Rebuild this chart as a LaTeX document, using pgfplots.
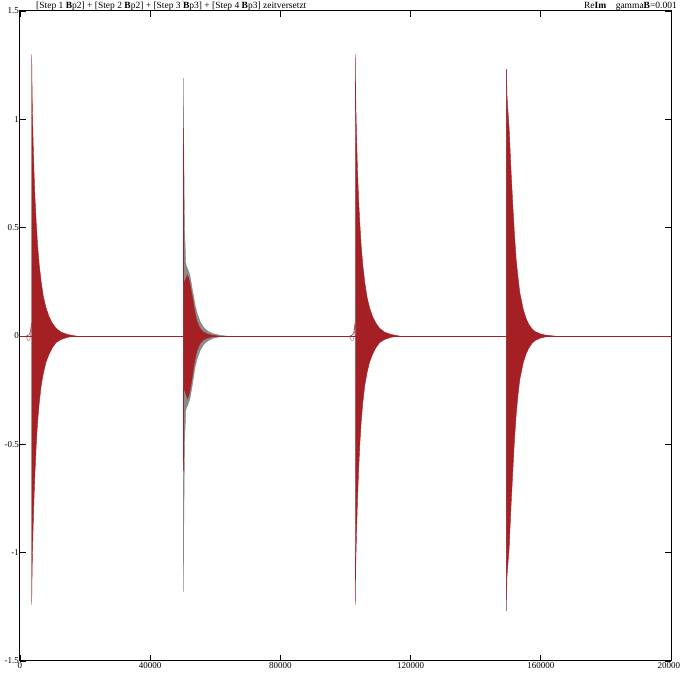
\documentclass[border=0pt]{standalone}
\usepackage{fontspec}
\setmainfont{Liberation Serif}
\usepackage{pgfplots}
\pgfplotsset{compat=1.18}
\definecolor{dred}{RGB}{165,32,36}
\definecolor{lgray}{RGB}{138,138,138}
\begin{document}
\fontsize{9.5}{11}\selectfont
\begin{tikzpicture}
\begin{axis}[name=ax, scale only axis, width=651pt, height=650pt,
 xmin=0, xmax=200000, ymin=-1.5, ymax=1.5,
 xtick={0,40000,80000,120000,160000,200000},
 ytick={-1.5,-1,-0.5,0,0.5,1,1.5},
 scaled x ticks=false, scaled y ticks=false,
 xticklabel style={/pgf/number format/fixed, /pgf/number format/1000 sep={}},
 yticklabel style={/pgf/number format/fixed, inner sep=1pt},
 /pgf/number format/assume math mode=true,
 tick align=inside, major tick length=6pt,
 axis line style={line width=1pt},
 every tick/.style={black, line width=0.9pt},
 tick label style={font=\fontsize{9}{11}\selectfont, inner sep=1.2pt},
 clip=true]
% baselines
\addplot[lgray, line width=0.6pt] coordinates {(0,0) (200000,0)};
% gray curls
\addplot[lgray, line width=0.5pt, smooth] coordinates {(1800,0) (2400,-0.02) (2900,-0.02) (3300,0.01) (3500,0.05)};
\addplot[lgray, line width=0.5pt, smooth] coordinates {(101200,0) (101800,-0.02) (102300,-0.02) (102700,0.01) (102900,0.05)};
% gray burst 2
\addplot[lgray, fill=lgray, line width=0.4pt] coordinates {
(50200,1.19) (50300,0.9) (50450,0.65) (50650,0.45) (50950,0.33) (51500,0.31) (52200,0.28) (53000,0.21) (53700,0.15) (54500,0.10) (55400,0.065) (56400,0.04) (57700,0.022) (59200,0.011) (61200,0.004) (63200,0)
(61200,-0.004) (59200,-0.011) (57700,-0.022) (56400,-0.04) (55400,-0.065) (54500,-0.10) (53700,-0.15) (53000,-0.22) (52200,-0.29) (51500,-0.32) (50950,-0.34) (50650,-0.45) (50450,-0.65) (50300,-0.9) (50200,-1.18)} -- cycle;
% gray spike burst 4
\addplot[lgray, line width=0.6pt] coordinates {(149550,-1.27) (149550,1.23)};
% red baseline
\addplot[dred, line width=0.6pt] coordinates {(0,0) (200000,0)};
% red curls
\addplot[dred, line width=0.5pt, smooth] coordinates {(2000,0) (2700,0.005) (3200,0.02) (3500,0.06)};
\addplot[dred, line width=0.5pt, smooth] coordinates {(101400,0) (102100,0.005) (102600,0.02) (102900,0.06)};
% red burst 1
\addplot[dred, fill=dred, line width=0.4pt] coordinates {
(3600,1.30) (3660,1.20) (3800,1.05) (4000,0.92) (4300,0.76) (4600,0.64) (5000,0.52) (5400,0.42) (5900,0.33) (6500,0.25) (7200,0.18) (8000,0.13) (8900,0.09) (9900,0.06) (11100,0.035) (12600,0.018) (14600,0.007) (17100,0)
(14600,-0.006) (12600,-0.016) (11100,-0.03) (9900,-0.055) (8900,-0.085) (8000,-0.12) (7200,-0.17) (6500,-0.23) (5900,-0.31) (5400,-0.40) (5000,-0.50) (4600,-0.63) (4300,-0.75) (4000,-0.90) (3800,-1.02) (3660,-1.15) (3600,-1.24)} -- cycle;
% red burst 2
\addplot[dred, fill=dred, line width=0.4pt] coordinates {
(50200,0.96) (50240,0.96) (50290,0.24) (50800,0.26) (51500,0.28) (52100,0.25) (52700,0.2) (53100,0.17) (53600,0.12) (54200,0.075) (54800,0.05) (55300,0.035) (56200,0.02) (57400,0.01) (59200,0.003) (60700,0)
(59200,-0.003) (57400,-0.01) (56200,-0.02) (55300,-0.035) (54800,-0.05) (54200,-0.075) (53600,-0.12) (53100,-0.17) (52700,-0.21) (52100,-0.26) (51500,-0.29) (50800,-0.26) (50290,-0.24) (50240,-0.62) (50200,-0.62)} -- cycle;
% red burst 3
\addplot[dred, fill=dred, line width=0.4pt] coordinates {
(103000,1.30) (103060,1.20) (103200,1.05) (103400,0.92) (103700,0.76) (104000,0.64) (104400,0.52) (104800,0.42) (105300,0.33) (105900,0.25) (106600,0.18) (107400,0.13) (108300,0.09) (109300,0.06) (110500,0.035) (112000,0.018) (114000,0.007) (116500,0)
(114000,-0.006) (112000,-0.016) (110500,-0.03) (109300,-0.055) (108300,-0.085) (107400,-0.12) (106600,-0.17) (105900,-0.23) (105300,-0.31) (104800,-0.40) (104400,-0.50) (104000,-0.63) (103700,-0.75) (103400,-0.90) (103200,-1.02) (103060,-1.15) (103000,-1.24)} -- cycle;
% red burst 4
\addplot[dred, fill=dred, line width=0.4pt] coordinates {
(149500,1.23) (149580,1.12) (149800,1.06) (150270,0.96) (150800,0.78) (151380,0.61) (151900,0.47) (152450,0.35) (153000,0.27) (153550,0.20) (154650,0.12) (155500,0.08) (156300,0.054) (157300,0.033) (158300,0.02) (160000,0.009) (161500,0.004) (164000,0)
(161500,-0.004) (160000,-0.009) (158300,-0.02) (157300,-0.034) (156300,-0.056) (155500,-0.082) (154650,-0.12) (153550,-0.2) (153000,-0.27) (152450,-0.36) (151900,-0.48) (151380,-0.63) (150800,-0.8) (150270,-0.98) (149800,-1.07) (149580,-1.12) (149500,-1.22)} -- cycle;
\end{axis}
\node[anchor=base west, inner sep=0pt] at ([xshift=16pt,yshift=2.5pt]ax.north west)
 {[Step 1 \textbf{B}p2] + [Step 2 \textbf{B}p2] + [Step 3 \textbf{B}p3] + [Step 4 \textbf{B}p3] zeitversetzt};
\node[anchor=base east, inner sep=0pt] at ([xshift=6pt,yshift=2.5pt]ax.north east)
 {Re\textbf{Im}\quad gamma\textbf{B}=0.001};
\pgfresetboundingbox
\path ([xshift=-20pt,yshift=-15pt]ax.south west) rectangle ([xshift=9pt,yshift=11pt]ax.north east);
\end{tikzpicture}
\end{document}
